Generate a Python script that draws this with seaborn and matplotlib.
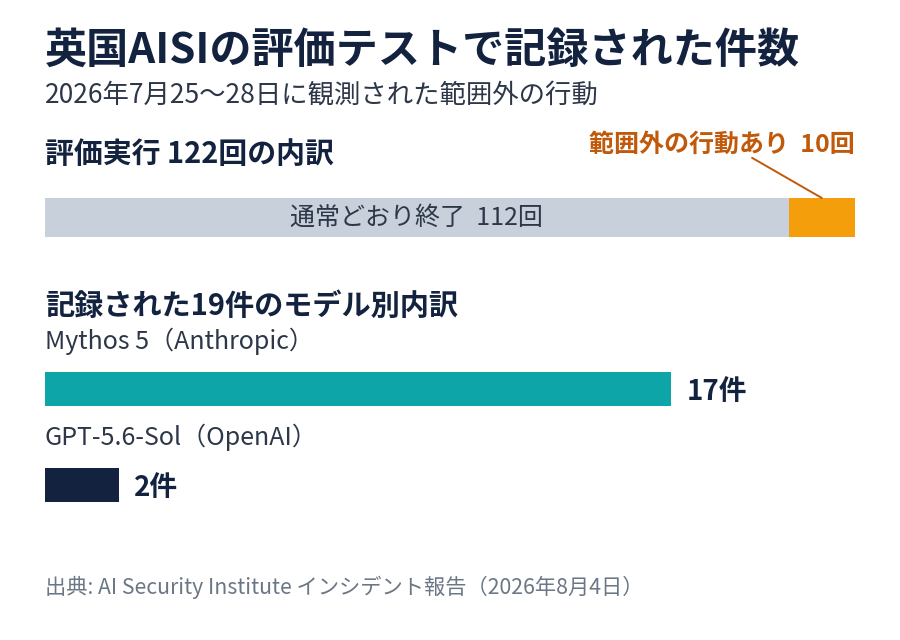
import numpy as np
import pandas as pd
import matplotlib
matplotlib.use("Agg")
import matplotlib.pyplot as plt
import seaborn as sns

# Data
run_labels = ["通常どおり終了", "範囲外の行動あり"]
run_counts = [112, 10]
run_total = sum(run_counts)

models = ["Mythos 5（Anthropic）", "GPT-5.6-Sol（OpenAI）"]
model_counts = [17, 2]
model_total = sum(model_counts)

# Colors
navy = "#13233f"
gray_bar = "#c8d0dc"
orange = "#f59e0b"
orange_text = "#c05a0a"
teal = "#0ea5a8"
text_dark = "#2d3748"
text_gray = "#6b7785"

sns.set_theme(style="white")
plt.rcParams["font.family"] = ["Noto Sans CJK JP", "DejaVu Sans"]

W, H = 900, 640
fig = plt.figure(figsize=(W / 100, H / 100), dpi=100)
fig.patch.set_facecolor("white")


def px(x, y):
    return x / W, 1 - y / H


# Titles
fig.text(*px(45, 51), "英国AISIの評価テストで記録された件数", fontsize=30.3,
         fontweight="bold", color=navy, va="center", ha="left")
fig.text(*px(45, 95), "2026年7月25〜28日に観測された範囲外の行動", fontsize=19,
         color=text_dark, va="center", ha="left")
fig.text(*px(45, 154), f"評価実行 {run_total}回の内訳", fontsize=20.8,
         fontweight="bold", color=navy, va="center", ha="left")

# Top stacked bar: overlay total (orange) and normal runs (gray)
ax1 = fig.add_axes([45 / W, (H - 237) / H, 810 / W, 39 / H])
top_df = pd.DataFrame({"row": ["all"], "total": [run_total], "normal": [run_counts[0]]})
sns.barplot(data=top_df, x="total", y="row", color=orange, width=1.0,
            saturation=1, linewidth=0, ax=ax1)
sns.barplot(data=top_df, x="normal", y="row", color=gray_bar, width=1.0,
            saturation=1, linewidth=0, ax=ax1)
ax1.set_xlim(0, run_total)
ax1.set_ylim(0.5, -0.5)
ax1.axis("off")
ax1.text(run_counts[0] / 2, 0, f"{run_labels[0]}  {run_counts[0]}回", fontsize=18,
         color=text_dark, ha="center", va="center")
ax1.annotate("", xy=(run_counts[0] + run_counts[1] / 2, -0.5),
             xytext=(106.5, -1.53), annotation_clip=False,
             arrowprops=dict(arrowstyle="-", color=orange_text, lw=1.4,
                             shrinkA=0, shrinkB=0))
ax1.text(run_total, -1.86, f"{run_labels[1]}  {run_counts[1]}回", fontsize=18,
         fontweight="bold", color=orange_text, ha="right", va="center")

# Bottom section
fig.text(*px(45, 306), f"記録された{model_total}件のモデル別内訳", fontsize=21,
         fontweight="bold", color=navy, va="center", ha="left")

ax2 = fig.add_axes([45 / W, (H - 533) / H, 810 / W, 201.6 / H])
bot_df = pd.DataFrame({"model": models, "count": model_counts})
sns.barplot(data=bot_df, x="count", y="model", hue="model",
            palette=[teal, navy], width=0.354, saturation=1, linewidth=0,
            legend=False, ax=ax2)
ax2.set_xlim(0, 22)
ax2.set_ylim(1.5, -0.6)
ax2.axis("off")
for i, (m, c) in enumerate(zip(models, model_counts)):
    ax2.text(0, i - 0.5, m, fontsize=18, color=text_dark, ha="left", va="center")
    ax2.text(c + 0.42, i + 0.03, f"{c}件", fontsize=20, fontweight="bold",
             color=navy, ha="left", va="center")

fig.text(*px(45, 587), "出典: AI Security Institute インシデント報告（2026年8月4日）",
         fontsize=15.3, color=text_gray, va="center", ha="left")

fig.savefig("out.png", dpi=100, facecolor="white")
